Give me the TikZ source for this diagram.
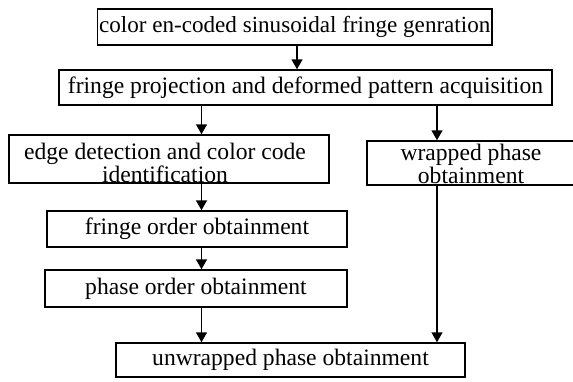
\documentclass[tikz,border=0pt]{standalone}
\usepackage{fontspec}
\setmainfont{Liberation Serif}
\newfontfamily\timesfont{Liberation Serif}
\usetikzlibrary{arrows.meta}
\begin{document}
\begin{tikzpicture}[x=1pt,y=-1pt,
  box/.style={draw, line width=1.5pt, inner sep=0pt, font=\timesfont\fontsize{23.6}{20}\selectfont, text height=16pt, text depth=5pt},
  frame/.style={draw, line width=1.5pt, inner sep=0pt},
  twoline/.style={inner sep=0pt, align=center, font=\timesfont\fontsize{23.6}{20.5}\selectfont},
  arr/.style={line width=1.6pt, -{Triangle[length=10pt,width=11pt]}}]
\useasboundingbox (0,0) rectangle (573,381);
\node[box, font=\timesfont\fontsize{23.1}{20}\selectfont, minimum width=394.5pt, minimum height=36pt] (b1) at (294.75,27) {color en-coded sinusoidal fringe genration};
\node[box, minimum width=493pt, minimum height=35pt] (b2) at (305.5,87.5) {fringe projection and deformed pattern acquisition};
\node[frame, minimum width=320pt, minimum height=48pt] (b3) at (169,159) {};
\node[twoline] (b3t) at (165,163) {edge detection and color code\\identification};
\node[frame, minimum width=208pt, minimum height=44pt] (w) at (471,163) {};
\node[twoline] (wt) at (471,164) {wrapped phase\\obtainment};
\node[box, minimum width=300pt, minimum height=36pt] (b4) at (197,229) {fringe order obtainment};
\node[box, minimum width=302pt, minimum height=37pt] (b5) at (196,288.5) {phase order obtainment};
\node[box, minimum width=349pt, minimum height=34pt] (b6) at (290.5,360) {unwrapped phase obtainment};
\coordinate (xa) at (297,0);
\coordinate (xl) at (201.5,0);
\coordinate (xr) at (437,0);
\draw[arr] (b1.south -| xa) -- (b2.north -| xa);
\draw[arr] (b2.south -| xl) -- (b3.north -| xl);
\draw[arr] (b2.south -| xr) -- (w.north -| xr);
\draw[arr] (b3.south -| xl) -- (b4.north -| xl);
\draw[arr] (b4.south -| xl) -- (b5.north -| xl);
\draw[arr] (b5.south -| xl) -- (b6.north -| xl);
\draw[arr] (w.south -| xr) -- (b6.north -| xr);
\end{tikzpicture}
\end{document}
